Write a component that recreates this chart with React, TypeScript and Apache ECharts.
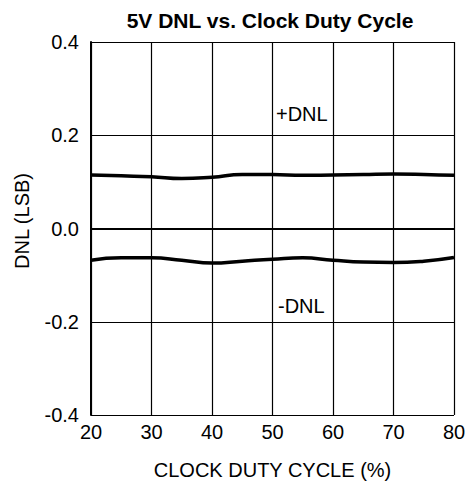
import React, { useEffect, useRef } from "react";
import * as echarts from "echarts";

const dutyCycle = [20, 25, 30, 35, 40, 45, 50, 55, 60, 65, 70, 75, 80];
const dnlPlus = [0.115, 0.113, 0.111, 0.107, 0.11, 0.116, 0.116, 0.114, 0.115, 0.116, 0.117, 0.116, 0.114];
const dnlMinus = [-0.068, -0.063, -0.063, -0.068, -0.074, -0.07, -0.066, -0.063, -0.068, -0.072, -0.073, -0.07, -0.062];
const xTicks = [20, 30, 40, 50, 60, 70, 80];
const yTicks = [-0.4, -0.2, 0, 0.2, 0.4];

const FONT = "'Liberation Sans', Arial, sans-serif";

export default function App() {
  const ref = useRef<HTMLDivElement>(null);
  useEffect(() => {
    document.body.style.margin = "0";
    const chart = echarts.init(ref.current!, null, { renderer: "svg" });
    chart.setOption({
      animation: false,
      backgroundColor: "#ffffff",
      title: {
        text: "5V DNL vs. Clock Duty Cycle",
        left: 265,
        top: 5,
        textAlign: "center",
        textStyle: { fontFamily: FONT, fontSize: 21, fontWeight: "bold", color: "#000" },
      },
      grid: { left: 91, right: 16, top: 42, bottom: 65, show: false },
      xAxis: {
        type: "value",
        min: 20,
        max: 80,
        interval: 10,
        name: "CLOCK DUTY CYCLE (%)",
        nameLocation: "middle",
        nameGap: 45,
        nameTextStyle: { fontFamily: FONT, fontSize: 20, color: "#000" },
        axisLine: { show: true, lineStyle: { color: "#000", width: 2 } },
        axisTick: { show: false },
        axisLabel: {
          fontFamily: FONT,
          fontSize: 20,
          color: "#000",
          margin: 7,
          formatter: (v: number) => (xTicks.includes(v) ? String(v) : ""),
        },
        splitLine: { show: true, lineStyle: { color: "#000", width: 1.2 } },
      },
      yAxis: {
        type: "value",
        min: -0.4,
        max: 0.4,
        interval: 0.2,
        axisLine: { show: true, lineStyle: { color: "#000", width: 2 } },
        axisTick: { show: false },
        axisLabel: {
          fontFamily: FONT,
          fontSize: 20,
          color: "#000",
          margin: 12,
          formatter: (v: number) => {
            const t = yTicks.find((y) => Math.abs(y - v) < 1e-9);
            return t === undefined ? "" : t.toFixed(1);
          },
        },
        splitLine: { show: true, lineStyle: { color: "#000", width: 1.2 } },
      },
      series: [
        {
          type: "line",
          name: "+DNL",
          data: dutyCycle.map((x, i) => [x, dnlPlus[i]]),
          smooth: true,
          showSymbol: false,
          lineStyle: { color: "#000", width: 3.5 },
        },
        {
          type: "line",
          name: "-DNL",
          data: dutyCycle.map((x, i) => [x, dnlMinus[i]]),
          smooth: true,
          showSymbol: false,
          lineStyle: { color: "#000", width: 3.5 },
        },
      ],
      graphic: [
        {
          type: "text",
          x: 22,
          y: 221,
          rotation: Math.PI / 2,
          style: {
            text: "DNL (LSB)",
            font: `20px ${FONT}`,
            fill: "#000",
            align: "center",
            verticalAlign: "middle",
          },
        },
        {
          type: "text",
          x: 276,
          y: 114,
          style: { text: "+DNL", font: `20px ${FONT}`, fill: "#000", verticalAlign: "middle" },
          z: 11,
        },
        {
          type: "text",
          x: 278,
          y: 306,
          style: { text: "-DNL", font: `20px ${FONT}`, fill: "#000", verticalAlign: "middle" },
          z: 11,
        },
      ],
    });
    return () => chart.dispose();
  }, []);
  return <div ref={ref} style={{ width: 470, height: 485 }} />;
}
